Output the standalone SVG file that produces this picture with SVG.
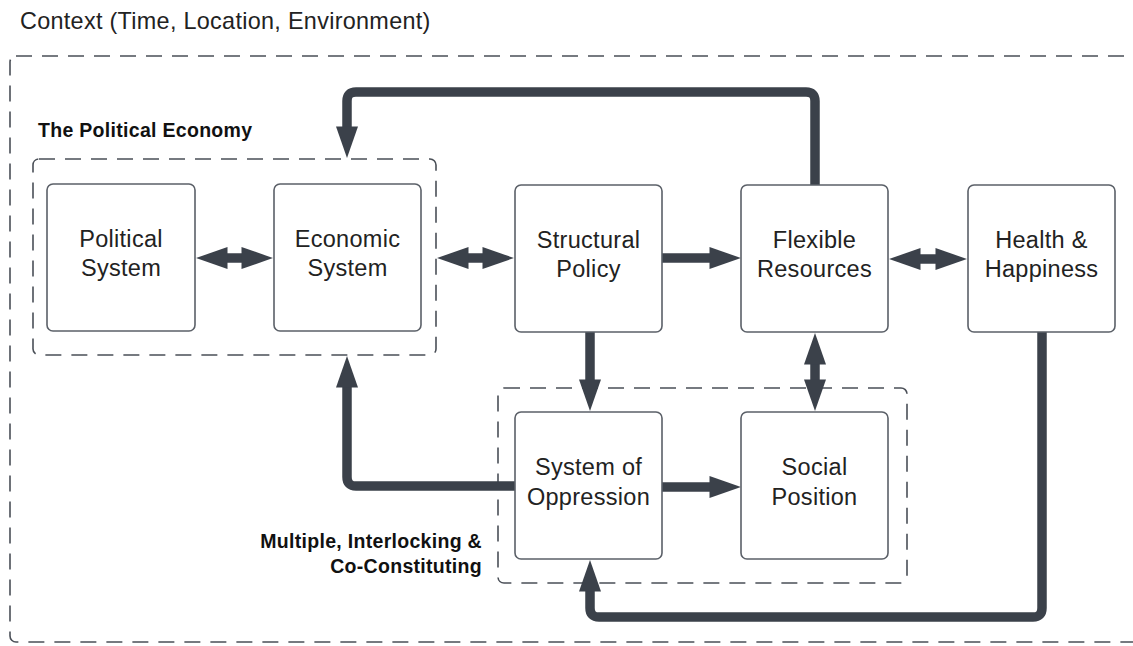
<svg xmlns="http://www.w3.org/2000/svg" width="1133" height="646" viewBox="0 0 1133 646">
<style>
.bg{fill:#ffffff}
.dash{fill:none;stroke:#4a4f57;stroke-width:1.6;stroke-dasharray:16 10}
.box{fill:#ffffff;stroke:#5b6068;stroke-width:1.6}
.t{font-family:"Liberation Sans",Arial,sans-serif;font-size:23.5px;fill:#222;text-anchor:middle;letter-spacing:0.3px}
.lbl{font-family:"Liberation Sans",Arial,sans-serif;font-size:19.5px;font-weight:bold;fill:#111;letter-spacing:0.3px}
.ctx{font-family:"Liberation Sans",Arial,sans-serif;font-size:23.4px;fill:#222;letter-spacing:0.3px}
.c{fill:none;stroke:#3b414a;stroke-width:9.5;stroke-linejoin:round}
.one{marker-end:url(#ah)}
.two{marker-start:url(#ah);marker-end:url(#ah)}
</style>
<defs>
<marker id="ah" markerUnits="userSpaceOnUse" markerWidth="32" markerHeight="22" viewBox="0 0 30 21" refX="10" refY="10.5" orient="auto-start-reverse">
<path d="M0,0 L30,10.5 L0,21 z" fill="#3b414a"/>
</marker>
</defs>
<rect class="bg" x="0" y="0" width="1133" height="646"/>
<text class="ctx" x="20" y="29">Context (Time, Location, Environment)</text>
<g id="context-frame">
<rect class="dash" x="10" y="56" width="1160" height="586" rx="6"/>
</g>
<g id="political-economy">
<rect class="dash" x="33" y="159" width="403" height="196" rx="6"/>
<text class="lbl" x="38" y="137">The Political Economy</text>
</g>
<g id="oppression-group">
<rect class="dash" x="498" y="388" width="409" height="195" rx="6"/>
<text class="lbl" x="482" y="548" text-anchor="end">Multiple, Interlocking &amp;</text>
<text class="lbl" x="482" y="573" text-anchor="end">Co-Constituting</text>
</g>
<g id="connectors">
<path class="c two" d="M217,258 H252"/>
<path class="c two" d="M458,258 H493"/>
<path class="c one" d="M662,258 H720"/>
<path class="c two" d="M910,259 H946"/>
<path class="c one" d="M590,332 V390"/>
<path class="c two" d="M815,354 V390"/>
<path class="c one" d="M662,487 H720"/>
<path class="c one" d="M815,185 V101 Q815,92 806,92 H356 Q347,92 347,101 V137"/>
<path class="c one" d="M515,486 H356 Q347,486 347,477 V377"/>
<path class="c one" d="M1042,332 V608 Q1042,617 1033,617 H599 Q590,617 590,608 V581"/>
</g>
<g id="political-system">
<rect class="box" x="47" y="184" width="148" height="147" rx="6"/>
<text class="t" x="121" y="247">Political</text>
<text class="t" x="121" y="276">System</text>
</g>
<g id="economic-system">
<rect class="box" x="274" y="184" width="147" height="147" rx="6"/>
<text class="t" x="347.5" y="247">Economic</text>
<text class="t" x="347.5" y="276">System</text>
</g>
<g id="structural-policy">
<rect class="box" x="515" y="185" width="147" height="147" rx="6"/>
<text class="t" x="588.5" y="248">Structural</text>
<text class="t" x="588.5" y="277">Policy</text>
</g>
<g id="flexible-resources">
<rect class="box" x="741" y="185" width="147" height="147" rx="6"/>
<text class="t" x="814.5" y="248">Flexible</text>
<text class="t" x="814.5" y="277">Resources</text>
</g>
<g id="health-happiness">
<rect class="box" x="968" y="185" width="147" height="147" rx="6"/>
<text class="t" x="1041.5" y="248">Health &amp;</text>
<text class="t" x="1041.5" y="277">Happiness</text>
</g>
<g id="system-of-oppression">
<rect class="box" x="515" y="412" width="147" height="147" rx="6"/>
<text class="t" x="588.5" y="475">System of</text>
<text class="t" x="588.5" y="505">Oppression</text>
</g>
<g id="social-position">
<rect class="box" x="741" y="412" width="147" height="147" rx="6"/>
<text class="t" x="814.5" y="475">Social</text>
<text class="t" x="814.5" y="505">Position</text>
</g>
</svg>
